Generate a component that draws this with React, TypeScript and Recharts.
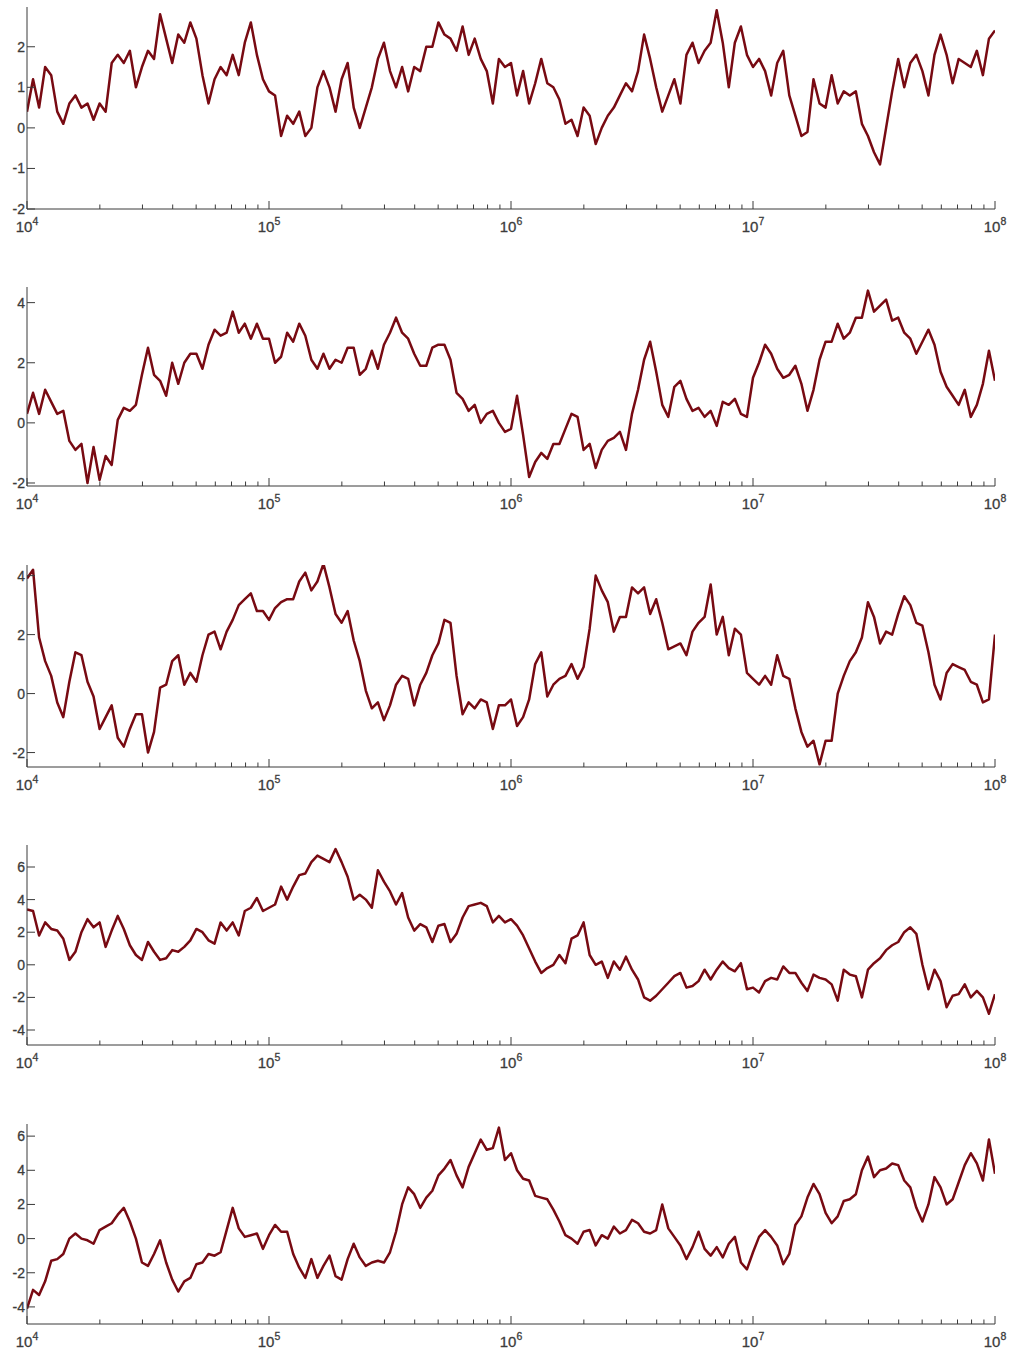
import React from 'react';
import { LineChart, Line, XAxis, YAxis } from 'recharts';

// five random-walk runs, sampled every 1/40 decade from 1e4 to 1e8
const run1 = [
  0.4, 1.2, 0.5, 1.5, 1.3, 0.4, 0.1, 0.6, 0.8, 0.5,
  0.6, 0.2, 0.6, 0.4, 1.6, 1.8, 1.6, 1.9, 1.0, 1.5,
  1.9, 1.7, 2.8, 2.2, 1.6, 2.3, 2.1, 2.6, 2.2, 1.3,
  0.6, 1.2, 1.5, 1.3, 1.8, 1.3, 2.1, 2.6, 1.8, 1.2,
  0.9, 0.8, -0.2, 0.3, 0.1, 0.4, -0.2, 0.0, 1.0, 1.4,
  1.0, 0.4, 1.2, 1.6, 0.5, 0.0, 0.5, 1.0, 1.7, 2.1,
  1.4, 1.0, 1.5, 0.9, 1.5, 1.4, 2.0, 2.0, 2.6, 2.3,
  2.2, 1.9, 2.5, 1.8, 2.2, 1.7, 1.4, 0.6, 1.7, 1.5,
  1.6, 0.8, 1.4, 0.6, 1.1, 1.7, 1.1, 1.0, 0.7, 0.1,
  0.2, -0.2, 0.5, 0.3, -0.4, 0.0, 0.3, 0.5, 0.8, 1.1,
  0.9, 1.4, 2.3, 1.7, 1.0, 0.4, 0.8, 1.2, 0.6, 1.8,
  2.1, 1.6, 1.9, 2.1, 2.9, 2.1, 1.0, 2.1, 2.5, 1.8,
  1.5, 1.7, 1.4, 0.8, 1.6, 1.9, 0.8, 0.3, -0.2, -0.1,
  1.2, 0.6, 0.5, 1.3, 0.6, 0.9, 0.8, 0.9, 0.1, -0.2,
  -0.6, -0.9, 0.0, 0.9, 1.7, 1.0, 1.6, 1.8, 1.4, 0.8,
  1.8, 2.3, 1.8, 1.1, 1.7, 1.6, 1.5, 1.9, 1.3, 2.2,
  2.4,
];

const run2 = [
  0.3, 1.0, 0.3, 1.1, 0.7, 0.3, 0.4, -0.6, -0.9, -0.7,
  -2.0, -0.8, -1.9, -1.1, -1.4, 0.1, 0.5, 0.4, 0.6, 1.6,
  2.5, 1.6, 1.4, 0.9, 2.0, 1.3, 2.0, 2.3, 2.3, 1.8,
  2.6, 3.1, 2.9, 3.0, 3.7, 3.0, 3.3, 2.8, 3.3, 2.8,
  2.8, 2.0, 2.2, 3.0, 2.7, 3.3, 2.9, 2.1, 1.8, 2.3,
  1.8, 2.1, 2.0, 2.5, 2.5, 1.6, 1.8, 2.4, 1.8, 2.6,
  3.0, 3.5, 3.0, 2.8, 2.3, 1.9, 1.9, 2.5, 2.6, 2.6,
  2.1, 1.0, 0.8, 0.4, 0.6, 0.0, 0.3, 0.4, 0.0, -0.3,
  -0.2, 0.9, -0.4, -1.8, -1.3, -1.0, -1.2, -0.7, -0.7, -0.2,
  0.3, 0.2, -0.9, -0.7, -1.5, -0.9, -0.6, -0.5, -0.3, -0.9,
  0.3, 1.1, 2.1, 2.7, 1.7, 0.6, 0.2, 1.2, 1.4, 0.8,
  0.4, 0.5, 0.2, 0.4, -0.1, 0.7, 0.6, 0.8, 0.3, 0.2,
  1.5, 2.0, 2.6, 2.3, 1.8, 1.5, 1.6, 1.9, 1.3, 0.4,
  1.1, 2.1, 2.7, 2.7, 3.3, 2.8, 3.0, 3.5, 3.5, 4.4,
  3.7, 3.9, 4.1, 3.4, 3.5, 3.0, 2.8, 2.3, 2.7, 3.1,
  2.6, 1.7, 1.2, 0.9, 0.6, 1.1, 0.2, 0.6, 1.3, 2.4,
  1.4,
];

const run3 = [
  3.9, 4.2, 1.9, 1.1, 0.6, -0.3, -0.8, 0.4, 1.4, 1.3,
  0.4, -0.1, -1.2, -0.8, -0.4, -1.5, -1.8, -1.2, -0.7, -0.7,
  -2.0, -1.3, 0.2, 0.3, 1.1, 1.3, 0.3, 0.7, 0.4, 1.3,
  2.0, 2.1, 1.5, 2.1, 2.5, 3.0, 3.2, 3.4, 2.8, 2.8,
  2.5, 2.9, 3.1, 3.2, 3.2, 3.8, 4.1, 3.5, 3.8, 4.4,
  3.6, 2.7, 2.4, 2.8, 1.8, 1.1, 0.1, -0.5, -0.3, -0.9,
  -0.4, 0.3, 0.6, 0.5, -0.4, 0.3, 0.7, 1.3, 1.7, 2.5,
  2.4, 0.6, -0.7, -0.3, -0.5, -0.2, -0.3, -1.2, -0.4, -0.4,
  -0.2, -1.1, -0.8, -0.2, 1.0, 1.4, -0.1, 0.3, 0.5, 0.6,
  1.0, 0.5, 0.9, 2.2, 4.0, 3.5, 3.1, 2.1, 2.6, 2.6,
  3.6, 3.4, 3.6, 2.7, 3.2, 2.4, 1.5, 1.6, 1.7, 1.3,
  2.1, 2.4, 2.6, 3.7, 2.0, 2.6, 1.3, 2.2, 2.0, 0.7,
  0.5, 0.3, 0.6, 0.3, 1.3, 0.6, 0.5, -0.5, -1.3, -1.8,
  -1.6, -2.4, -1.6, -1.6, 0.0, 0.6, 1.1, 1.4, 1.9, 3.1,
  2.6, 1.7, 2.1, 2.0, 2.7, 3.3, 3.0, 2.4, 2.3, 1.4,
  0.3, -0.2, 0.7, 1.0, 0.9, 0.8, 0.4, 0.3, -0.3, -0.2,
  2.0,
];

const run4 = [
  3.4, 3.3, 1.8, 2.6, 2.2, 2.1, 1.6, 0.3, 0.8, 2.0,
  2.8, 2.3, 2.6, 1.1, 2.1, 3.0, 2.2, 1.2, 0.6, 0.3,
  1.4, 0.8, 0.3, 0.4, 0.9, 0.8, 1.1, 1.5, 2.2, 2.0,
  1.5, 1.3, 2.6, 2.1, 2.6, 1.8, 3.3, 3.5, 4.1, 3.3,
  3.5, 3.7, 4.8, 4.0, 4.8, 5.5, 5.6, 6.3, 6.7, 6.5,
  6.3, 7.1, 6.3, 5.4, 4.0, 4.3, 4.0, 3.5, 5.8, 5.1,
  4.5, 3.7, 4.4, 2.9, 2.1, 2.5, 2.3, 1.4, 2.4, 2.5,
  1.4, 1.9, 2.9, 3.6, 3.7, 3.8, 3.6, 2.6, 3.0, 2.6,
  2.8, 2.4, 1.8, 1.0, 0.2, -0.5, -0.2, 0.0, 0.6, 0.1,
  1.6, 1.8, 2.6, 0.6, 0.0, 0.2, -0.8, 0.2, -0.3, 0.5,
  -0.3, -0.9, -2.0, -2.2, -1.9, -1.5, -1.1, -0.7, -0.5, -1.4,
  -1.3, -1.0, -0.3, -0.9, -0.3, 0.2, -0.2, -0.4, 0.1, -1.5,
  -1.4, -1.7, -1.0, -0.8, -0.9, -0.1, -0.5, -0.5, -1.1, -1.6,
  -0.6, -0.8, -0.9, -1.2, -2.2, -0.3, -0.6, -0.7, -2.0, -0.3,
  0.1, 0.4, 0.9, 1.2, 1.4, 2.0, 2.3, 1.9, 0.0, -1.5,
  -0.3, -1.0, -2.6, -1.9, -1.8, -1.2, -2.0, -1.6, -2.0, -3.0,
  -1.8,
];

const run5 = [
  -4.1, -3.0, -3.3, -2.5, -1.3, -1.2, -0.9, 0.0, 0.3, 0.0,
  -0.1, -0.3, 0.5, 0.7, 0.9, 1.4, 1.8, 1.0, 0.0, -1.4,
  -1.6, -0.9, -0.1, -1.4, -2.4, -3.1, -2.5, -2.3, -1.5, -1.4,
  -0.9, -1.0, -0.8, 0.5, 1.8, 0.6, 0.1, 0.2, 0.3, -0.6,
  0.2, 0.8, 0.4, 0.4, -0.9, -1.7, -2.3, -1.2, -2.3, -1.6,
  -1.0, -2.2, -2.4, -1.2, -0.3, -1.1, -1.6, -1.4, -1.3, -1.4,
  -0.8, 0.4, 2.0, 3.0, 2.6, 1.8, 2.4, 2.8, 3.7, 4.1,
  4.6, 3.7, 3.0, 4.2, 5.0, 5.8, 5.2, 5.3, 6.5, 4.6,
  5.0, 4.0, 3.5, 3.4, 2.5, 2.4, 2.3, 1.7, 1.0, 0.2,
  0.0, -0.3, 0.4, 0.5, -0.4, 0.2, 0.0, 0.7, 0.3, 0.5,
  1.1, 0.9, 0.4, 0.3, 0.5, 2.0, 0.6, 0.1, -0.4, -1.2,
  -0.5, 0.4, -0.6, -1.0, -0.5, -1.1, -0.3, 0.1, -1.4, -1.8,
  -0.8, 0.1, 0.5, 0.1, -0.4, -1.5, -0.9, 0.8, 1.3, 2.4,
  3.2, 2.6, 1.5, 0.9, 1.3, 2.2, 2.3, 2.6, 4.0, 4.8,
  3.6, 4.0, 4.1, 4.4, 4.3, 3.4, 3.0, 1.8, 1.0, 2.0,
  3.6, 3.0, 2.0, 2.3, 3.3, 4.3, 5.0, 4.4, 3.4, 5.8,
  3.8,
];

const runs = [run1, run2, run3, run4, run5];

// y limits and tick labels of each panel
const yDomains = [
  [-2, 2.98],
  [-2.1, 4.52],
  [-2.49, 4.36],
  [-4.92, 7.35],
  [-5.0, 6.71],
];
const yTickSets = [
  [-2, -1, 0, 1, 2],
  [-2, 0, 2, 4],
  [-2, 0, 2, 4],
  [-4, -2, 0, 2, 4, 6],
  [-4, -2, 0, 2, 4, 6],
];

const decades = [4, 5, 6, 7];
const xTicks = decades
  .flatMap((d) => [1, 2, 3, 4, 5, 6, 7, 8, 9].map((m) => m * Math.pow(10, d)))
  .concat([1e8]);

const panelTops = [7, 287, 565, 845, 1124];
const panelHeights = [202, 199, 202, 200, 200];

const LINE = '#780a12';
const AXIS = '#3a3a3a';
const LABEL = '#3c3c3c';
const FONT = '"Liberation Sans", Arial, sans-serif';

const isMajor = (v: number) => {
  const l = Math.log10(v);
  return Math.abs(l - Math.round(l)) < 1e-6;
};

const BottomTick = (props: any) => {
  const { x, y, payload } = props;
  const v = payload.value;
  const major = isMajor(v);
  return (
    <g>
      <line x1={x} x2={x} y1={y} y2={y - (major ? 8 : 4.5)} stroke={AXIS} strokeWidth={1} />
      {major && (
        <text
          x={x}
          y={y + 23}
          textAnchor="middle"
          fill={LABEL}
          stroke={LABEL}
          strokeWidth={0.3}
          fontSize={15}
          fontFamily={FONT}
        >
          10
          <tspan dy={-7} fontSize={10.5}>
            {Math.round(Math.log10(v))}
          </tspan>
        </text>
      )}
    </g>
  );
};

const TopTick = (props: any) => {
  const { x, y, payload } = props;
  const major = isMajor(payload.value);
  return <line x1={x} x2={x} y1={y} y2={y + (major ? 8 : 4.5)} stroke={AXIS} strokeWidth={1} />;
};

const LeftTick = (props: any) => {
  const { x, y, payload } = props;
  return (
    <g>
      <line x1={x} x2={x + 8} y1={y} y2={y} stroke={AXIS} strokeWidth={1} />
      <text
        x={x - 2}
        y={y}
        dy="0.36em"
        textAnchor="end"
        fill={LABEL}
        stroke={LABEL}
        strokeWidth={0.3}
        fontSize={14}
        fontFamily={FONT}
      >
        {payload.value}
      </text>
    </g>
  );
};

const RightTick = (props: any) => {
  const { x, y } = props;
  return <line x1={x} x2={x - 8} y1={y} y2={y} stroke={AXIS} strokeWidth={1} />;
};

const Panel = ({ idx }: { idx: number }) => {
  const data = runs[idx].map((y, j) => ({ x: Math.pow(10, 4 + j / 40), y }));
  const domain = yDomains[idx];
  const h = panelHeights[idx];
  return (
    <div style={{ position: 'absolute', left: 0, top: panelTops[idx] }}>
      <LineChart width={1013} height={h + 36} data={data} margin={{ top: 0, right: 18, bottom: 0, left: 0 }}>
        <XAxis
          dataKey="x"
          type="number"
          scale="log"
          domain={[1e4, 1e8]}
          allowDataOverflow
          ticks={xTicks}
          interval={0}
          height={36}
          tickSize={0}
          tickMargin={0}
          tick={<BottomTick />}
          tickLine={false}
          axisLine={{ stroke: AXIS }}
        />
        <XAxis
          xAxisId="top"
          orientation="top"
          dataKey="x"
          type="number"
          scale="log"
          domain={[1e4, 1e8]}
          allowDataOverflow
          ticks={xTicks}
          interval={0}
          height={0}
          tickSize={0}
          tickMargin={0}
          tick={<TopTick />}
          tickLine={false}
          axisLine={{ stroke: AXIS }}
        />
        <YAxis
          type="number"
          domain={domain}
          allowDataOverflow
          ticks={yTickSets[idx]}
          interval={0}
          width={27}
          tickSize={0}
          tickMargin={0}
          tick={<LeftTick />}
          tickLine={false}
          axisLine={{ stroke: AXIS }}
        />
        <YAxis
          yAxisId="right"
          orientation="right"
          type="number"
          domain={domain}
          allowDataOverflow
          ticks={yTickSets[idx]}
          interval={0}
          width={0}
          tickSize={0}
          tickMargin={0}
          tick={<RightTick />}
          tickLine={false}
          axisLine={{ stroke: AXIS }}
        />
        <Line
          type="linear"
          dataKey="y"
          stroke={LINE}
          strokeWidth={2.5}
          strokeLinejoin="round"
          dot={false}
          isAnimationActive={false}
        />
      </LineChart>
    </div>
  );
};

export default function App() {
  return (
    <div style={{ position: 'absolute', left: 0, top: 0, width: 1013, height: 1355, background: '#fff' }}>
      {runs.map((_, i) => (
        <Panel key={i} idx={i} />
      ))}
    </div>
  );
}
